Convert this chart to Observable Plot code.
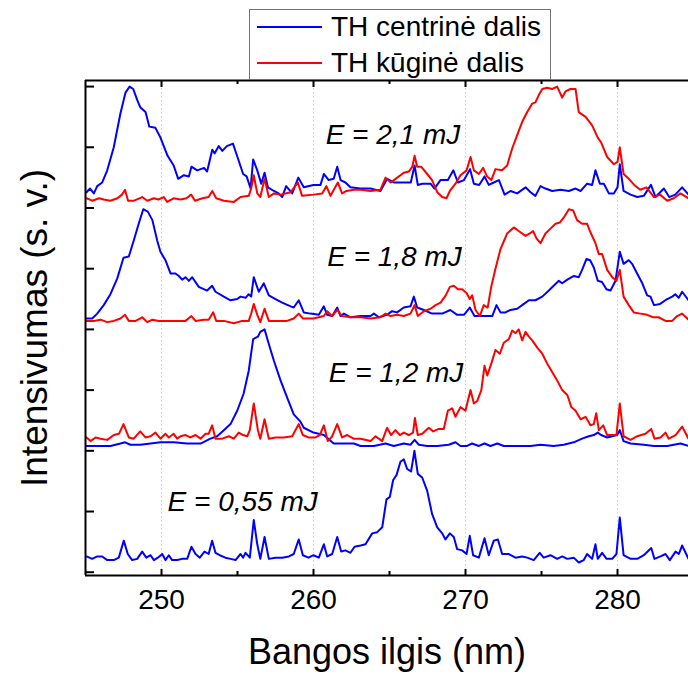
<!DOCTYPE html>
<html><head><meta charset="utf-8">
<script src="https://cdn.jsdelivr.net/npm/d3@7"></script>
<script src="https://cdn.jsdelivr.net/npm/@observablehq/plot@0.6"></script>
<style>
body{margin:0;background:#fff;}
#wrap{position:relative;width:688px;height:675px;font-family:"Liberation Sans",Arial,sans-serif;}
#legend{position:absolute;left:249px;top:9px;width:302px;height:71px;border:1px solid #707070;background:#fff;box-sizing:border-box;}
.row{position:absolute;left:0;height:32px;display:flex;align-items:center;}
.sw{width:65px;height:2px;margin-left:7px;margin-right:9px;}
.lab{font-size:28px;color:#000;white-space:nowrap;line-height:32px;}
</style></head><body>
<div id="wrap"><div id="chart"></div><div id="legend"></div></div>
<script>
// Series names and colours
const seriesNames = ["TH centrinė dalis", "TH kūginė dalis"];
const seriesColors = ["#0000ff", "#ff0000"];
const energyLabels = ["E = 0,55 mJ", "E = 1,2 mJ", "E = 1,8 mJ", "E = 2,1 mJ"];
const xMajor = [250, 260, 270, 280];
const xMinor = [255, 265, 275];
const yTicks = [0, 0.5, 1, 1.5, 2, 2.5, 3, 3.5, 4];

// Spectra: [wavelength nm, normalised intensity]
const blue055 = [[245.07,.13],[245.44,.11],[245.77,.13],[246.1,.13],[246.43,.10],[246.86,.10],[247.19,.12],[247.52,.26],[247.78,.15],[248.07,.10],[248.4,.11],[248.73,.17],[249.0,.12],[249.28,.14],[249.5,.10],[249.76,.12],[250.05,.15],[250.26,.10],[250.48,.14],[250.7,.10],[251.03,.10],[251.36,.11],[251.69,.11],[251.97,.21],[252.24,.15],[252.52,.12],[252.83,.17],[253.1,.15],[253.33,.26],[253.55,.16],[253.83,.14],[254.2,.12],[254.54,.11],[254.87,.10],[255.2,.15],[255.37,.12],[255.53,.16],[255.81,.12],[256.07,.43],[256.3,.23],[256.5,.11],[256.78,.29],[257.06,.11],[257.5,.12],[257.94,.12],[258.38,.13],[258.7,.15],[259.03,.27],[259.3,.14],[259.67,.12],[260.0,.14],[260.35,.12],[260.68,.23],[260.9,.13],[261.23,.15],[261.56,.29],[261.82,.17],[262.1,.18],[262.43,.16],[262.7,.21],[263.1,.22],[263.42,.23],[263.86,.32],[264.19,.33],[264.52,.37],[264.8,.60],[265.02,.62],[265.24,.76],[265.46,.80],[265.72,.91],[265.94,.93],[266.16,.85],[266.42,.83],[266.64,1.0],[266.86,.81],[267.15,.78],[267.48,.67],[267.8,.48],[268.14,.37],[268.47,.32],[268.68,.27],[268.97,.32],[269.23,.29],[269.45,.19],[269.78,.18],[270.07,.15],[270.28,.30],[270.5,.14],[270.88,.12],[271.25,.28],[271.53,.14],[271.86,.26],[272.13,.27],[272.41,.15],[272.85,.15],[273.29,.12],[273.73,.13],[274.06,.12],[274.49,.10],[274.88,.16],[275.14,.12],[275.59,.14],[276.03,.11],[276.36,.13],[276.7,.11],[277.12,.12],[277.45,.08],[277.78,.10],[278.0,.15],[278.33,.11],[278.55,.23],[278.7,.11],[278.99,.16],[279.28,.11],[279.65,.11],[279.93,.15],[280.15,.45],[280.4,.14],[280.86,.11],[281.3,.11],[281.73,.14],[282.22,.20],[282.43,.11],[282.83,.13],[283.16,.15],[283.44,.10],[283.82,.17],[284.03,.15],[284.25,.22],[284.67,.11]];

const blue12 = [[245.07,.04],[245.77,.04],[246.64,.04],[247.3,.06],[247.6,.07],[247.96,.05],[248.6,.05],[249.28,.06],[249.93,.07],[250.8,.07],[251.68,.06],[252.57,.06],[253.22,.10],[253.66,.12],[254.1,.17],[254.54,.22],[254.98,.33],[255.4,.47],[255.74,.66],[256.03,.92],[256.34,.94],[256.5,.98],[256.78,1.0],[257.06,.88],[257.4,.74],[257.83,.58],[258.26,.44],[258.7,.30],[259.14,.24],[259.36,.19],[260.0,.15],[260.68,.13],[261.33,.06],[262.0,.06],[262.65,.06],[263.1,.04],[263.97,.04],[264.74,.06],[265.28,.04],[265.94,.06],[266.38,.05],[266.65,.09],[266.93,.05],[267.48,.04],[268.14,.04],[268.9,.05],[269.34,.07],[269.67,.04],[270.1,.04],[270.43,.06],[270.88,.04],[271.25,.06],[271.64,.04],[272.09,.06],[272.52,.04],[273.4,.04],[274.28,.04],[274.93,.05],[275.8,.04],[276.46,.05],[277.12,.07],[277.67,.10],[278.11,.12],[278.44,.13],[278.7,.15],[278.92,.13],[279.32,.11],[279.65,.12],[279.98,.13],[280.15,.17],[280.4,.08],[280.86,.06],[281.73,.05],[282.4,.04],[283.27,.04],[284.14,.06],[284.67,.04]];

const red12 = [[245.07,.11],[245.33,.08],[245.66,.11],[245.99,.10],[246.43,.09],[246.86,.13],[247.2,.14],[247.5,.22],[247.85,.11],[248.17,.10],[248.6,.16],[248.95,.11],[249.28,.12],[249.6,.15],[249.93,.10],[250.26,.14],[250.48,.11],[250.8,.14],[251.03,.10],[251.25,.12],[251.58,.13],[251.9,.11],[252.24,.13],[252.57,.10],[252.9,.14],[253.1,.14],[253.33,.21],[253.55,.10],[253.99,.10],[254.43,.12],[254.76,.10],[255.08,.15],[255.37,.13],[255.64,.12],[255.81,.17],[256.07,.39],[256.34,.17],[256.5,.10],[256.78,.26],[257.06,.10],[257.5,.11],[258.05,.11],[258.6,.12],[259.03,.22],[259.3,.13],[259.67,.11],[260.13,.11],[260.41,.13],[260.68,.21],[260.94,.08],[261.23,.12],[261.56,.22],[261.88,.11],[262.21,.13],[262.65,.10],[263.1,.10],[263.75,.08],[264.08,.12],[264.52,.08],[264.84,.19],[265.1,.13],[265.39,.17],[265.68,.13],[265.94,.15],[266.27,.13],[266.55,.15],[266.67,.27],[266.86,.13],[267.15,.14],[267.59,.19],[267.87,.16],[268.24,.18],[268.57,.18],[268.84,.33],[269.13,.35],[269.34,.28],[269.67,.36],[270.0,.33],[270.15,.41],[270.33,.50],[270.55,.39],[270.77,.41],[271.04,.50],[271.25,.70],[271.43,.62],[271.7,.72],[271.97,.83],[272.26,.80],[272.52,.89],[272.85,.92],[273.07,.99],[273.29,.97],[273.5,1.0],[273.73,.91],[273.95,.98],[274.17,.94],[274.39,.91],[274.72,.85],[275.05,.80],[275.37,.72],[275.7,.65],[276.03,.58],[276.36,.50],[276.7,.46],[276.96,.36],[277.24,.33],[277.57,.26],[277.9,.28],[278.22,.21],[278.44,.22],[278.6,.31],[278.77,.17],[279.06,.21],[279.32,.13],[279.65,.13],[279.93,.13],[280.15,.39],[280.4,.12],[280.86,.09],[281.3,.12],[281.84,.14],[282.22,.18],[282.43,.10],[282.83,.11],[283.16,.15],[283.37,.10],[283.82,.13],[284.25,.20],[284.67,.10]];

const blue18 = [[245.07,.09],[245.44,.09],[245.77,.13],[246.2,.20],[246.64,.29],[247.09,.42],[247.5,.59],[247.85,.60],[248.17,.73],[248.5,.87],[248.8,.99],[249.1,.97],[249.4,.90],[249.72,.73],[249.93,.64],[250.26,.57],[250.6,.46],[250.92,.46],[251.14,.44],[251.36,.41],[251.58,.43],[251.8,.40],[252.02,.43],[252.45,.35],[253.0,.32],[253.33,.36],[253.55,.31],[254.1,.27],[254.54,.24],[254.98,.25],[255.2,.27],[255.53,.26],[255.74,.29],[255.9,.27],[256.07,.43],[256.4,.31],[256.73,.38],[257.06,.28],[257.5,.25],[257.94,.22],[258.5,.19],[258.7,.18],[259.03,.24],[259.36,.14],[259.8,.13],[260.35,.12],[260.68,.19],[260.9,.12],[261.23,.11],[261.56,.18],[261.78,.11],[262.0,.13],[262.43,.10],[263.1,.11],[263.75,.11],[263.97,.13],[264.3,.10],[264.84,.12],[265.17,.15],[265.5,.14],[265.94,.18],[266.38,.19],[266.6,.27],[266.82,.18],[267.26,.16],[267.8,.13],[268.47,.13],[269.0,.16],[269.45,.12],[269.9,.12],[270.28,.18],[270.59,.11],[270.99,.11],[271.43,.11],[271.76,.11],[272.04,.20],[272.3,.14],[272.63,.14],[272.96,.16],[273.4,.17],[273.84,.21],[274.17,.24],[274.6,.24],[275.05,.27],[275.48,.32],[275.8,.36],[276.14,.40],[276.36,.38],[276.7,.41],[277.13,.44],[277.45,.43],[277.67,.49],[277.96,.58],[278.2,.57],[278.44,.51],[278.7,.40],[278.98,.39],[279.27,.33],[279.54,.32],[279.87,.40],[280.15,.64],[280.4,.54],[280.74,.57],[280.96,.54],[281.29,.46],[281.63,.38],[281.95,.28],[282.17,.27],[282.4,.20],[282.8,.21],[283.27,.25],[283.6,.27],[283.8,.29],[284.03,.26],[284.25,.31],[284.67,.24]];

const red18 = [[245.07,.07],[245.55,.07],[245.99,.08],[246.43,.06],[246.86,.07],[247.3,.09],[247.6,.12],[247.85,.07],[248.3,.07],[248.73,.10],[249.06,.06],[249.4,.08],[249.82,.07],[250.37,.07],[251.03,.07],[251.58,.07],[251.97,.11],[252.24,.07],[252.78,.08],[253.1,.08],[253.4,.14],[253.6,.07],[254.1,.07],[254.76,.05],[255.3,.07],[255.74,.07],[255.9,.13],[256.07,.21],[256.3,.12],[256.5,.06],[256.78,.17],[257.06,.07],[257.6,.07],[258.26,.07],[258.7,.09],[259.03,.13],[259.3,.09],[260.0,.09],[260.68,.11],[260.9,.15],[261.23,.11],[261.56,.16],[261.88,.11],[262.43,.10],[263.1,.10],[263.75,.09],[264.4,.10],[264.74,.13],[265.07,.11],[265.5,.12],[265.94,.11],[266.38,.13],[266.65,.20],[266.86,.11],[267.26,.15],[267.7,.17],[268.03,.20],[268.36,.22],[268.7,.28],[268.97,.35],[269.23,.36],[269.5,.33],[269.78,.33],[270.07,.30],[270.28,.25],[270.44,.28],[270.66,.16],[270.94,.11],[271.2,.20],[271.46,.18],[271.69,.35],[271.97,.50],[272.3,.66],[272.74,.79],[273.18,.84],[273.5,.81],[273.95,.77],[274.23,.79],[274.45,.81],[274.67,.75],[274.93,.71],[275.26,.79],[275.59,.83],[275.92,.87],[276.2,.88],[276.46,.92],[276.8,.99],[277.08,.98],[277.34,.90],[277.67,.87],[278.0,.87],[278.22,.80],[278.55,.71],[278.77,.62],[278.99,.62],[279.32,.49],[279.65,.43],[279.93,.40],[280.15,.49],[280.4,.27],[280.74,.20],[281.07,.14],[281.5,.13],[281.95,.12],[282.34,.10],[282.7,.10],[283.16,.07],[283.6,.07],[283.92,.11],[284.25,.13],[284.67,.08]];

const blue21 = [[245.07,.13],[245.3,.16],[245.55,.12],[245.77,.18],[246.1,.21],[246.43,.31],[246.86,.50],[247.3,.78],[247.63,.95],[247.9,1.0],[248.14,.98],[248.4,.89],[248.6,.83],[248.95,.79],[249.2,.67],[249.6,.66],[249.93,.58],[250.4,.43],[250.8,.35],[251.1,.24],[251.47,.27],[251.8,.26],[251.97,.34],[252.35,.31],[252.8,.33],[253.0,.30],[253.34,.48],[253.5,.45],[253.77,.51],[254.0,.47],[254.3,.51],[254.7,.53],[254.97,.43],[255.37,.28],[255.6,.26],[255.86,.16],[256.03,.40],[256.3,.31],[256.56,.20],[256.78,.29],[257.0,.17],[257.4,.14],[257.7,.12],[257.94,.09],[258.2,.18],[258.6,.12],[259.0,.25],[259.36,.17],[260.0,.19],[260.46,.19],[260.68,.28],[261.0,.23],[261.33,.24],[261.56,.34],[261.78,.23],[262.1,.21],[262.43,.17],[263.1,.16],[263.75,.16],[264.4,.14],[264.85,.24],[265.28,.21],[265.94,.21],[266.4,.21],[266.65,.35],[266.86,.19],[267.15,.20],[267.7,.20],[267.96,.16],[268.35,.23],[268.84,.23],[269.2,.31],[269.5,.21],[269.9,.23],[270.3,.32],[270.55,.20],[270.9,.19],[271.25,.26],[271.53,.19],[271.86,.21],[272.2,.23],[272.57,.11],[272.96,.14],[273.4,.12],[273.95,.17],[274.28,.13],[274.6,.10],[274.93,.18],[275.26,.16],[275.7,.14],[276.25,.15],[276.8,.14],[277.24,.16],[277.57,.14],[278.0,.20],[278.33,.19],[278.55,.31],[278.84,.20],[279.1,.20],[279.43,.12],[279.76,.12],[280.0,.17],[280.15,.36],[280.4,.14],[280.86,.11],[281.3,.09],[281.73,.10],[282.2,.19],[282.5,.09],[283.05,.16],[283.4,.09],[283.8,.11],[284.25,.17],[284.67,.11]];

const red21 = [[245.07,.08],[245.44,.06],[245.9,.08],[246.2,.07],[246.64,.06],[247.1,.08],[247.4,.11],[247.6,.15],[247.8,.06],[248.2,.06],[248.73,.09],[249.06,.06],[249.5,.08],[249.8,.07],[250.15,.09],[250.37,.05],[250.8,.08],[251.25,.07],[251.64,.08],[251.95,.11],[252.2,.06],[252.7,.08],[253.1,.09],[253.34,.14],[253.6,.08],[254.1,.06],[254.76,.05],[255.2,.09],[255.74,.10],[255.9,.16],[256.07,.27],[256.3,.12],[256.5,.09],[256.78,.24],[257.06,.09],[257.4,.12],[257.83,.11],[258.5,.13],[258.97,.21],[259.25,.10],[260.0,.11],[260.57,.12],[260.85,.18],[261.12,.10],[261.6,.21],[261.88,.12],[262.17,.14],[262.65,.15],[263.1,.15],[263.75,.14],[264.4,.15],[264.74,.25],[265.07,.21],[265.4,.24],[265.94,.29],[266.27,.30],[266.5,.34],[266.65,.43],[266.82,.34],[267.08,.34],[267.48,.28],[267.8,.23],[268.14,.13],[268.47,.09],[268.75,.08],[268.97,.14],[269.34,.20],[269.67,.27],[270.07,.31],[270.33,.42],[270.55,.31],[270.88,.28],[271.16,.33],[271.42,.26],[271.7,.23],[271.97,.32],[272.4,.31],[272.74,.35],[273.07,.49],[273.4,.60],[273.73,.71],[274.06,.79],[274.39,.86],[274.6,.87],[274.82,.93],[275.05,.98],[275.37,.99],[275.7,.98],[276.03,1.0],[276.36,.91],[276.58,.96],[276.9,.98],[277.24,.98],[277.45,.79],[277.9,.75],[278.33,.68],[278.7,.58],[278.92,.54],[279.32,.42],[279.76,.36],[280.0,.38],[280.15,.50],[280.4,.28],[280.74,.24],[281.1,.19],[281.5,.15],[281.9,.17],[282.4,.09],[282.8,.11],[283.27,.06],[283.7,.08],[284.14,.12],[284.67,.08]];

// Panels: stacking offset, curves [blue, red]
const panels = [
  {offset: 0, blue: blue055, red: null},
  {offset: 1, blue: blue12, red: red12},
  {offset: 2, blue: blue18, red: red18},
  {offset: 3, blue: blue21, red: red21}
];
// Annotation anchors (wavelength, stacked intensity)
const annotations = [
  {label: energyLabels[0], x: 250.4, y: 0.582},
  {label: energyLabels[1], x: 261.0, y: 1.637},
  {label: energyLabels[2], x: 260.9, y: 2.595},
  {label: energyLabels[3], x: 260.8, y: 3.60}
];

const xDomain = [245, 284.67];
const yDomain = [-0.027, 4.05];
const W = 688, H = 675, mL = 85, mR = 0, mT = 80, mB = 100;
const frameW = W - mL - mR, frameH = H - mT - mB;

const lineMarks = [];
for (const p of panels) {
  lineMarks.push(Plot.line(p.blue, {x: d => d[0], y: d => d[1] + p.offset, stroke: seriesColors[0], strokeWidth: 2, strokeLinejoin: "round"}));
  if (p.red) lineMarks.push(Plot.line(p.red, {x: d => d[0], y: d => d[1] + p.offset, stroke: seriesColors[1], strokeWidth: 2, strokeLinejoin: "round"}));
}

const chart = Plot.plot({
  width: W, height: H, marginLeft: mL, marginRight: mR, marginTop: mT, marginBottom: mB,
  x: {domain: xDomain, axis: null},
  y: {domain: yDomain, axis: null},
  style: {fontFamily: "Liberation Sans, Arial, sans-serif", background: "white", color: "black"},
  marks: [
    Plot.ruleX(xMajor, {stroke: "#cfcfcf", strokeWidth: 1, strokeDasharray: "1.5,2.5"}),
    ...lineMarks,
    Plot.ruleX([xDomain[0]], {stroke: "black", strokeWidth: 2}),
    Plot.ruleY([yDomain[0]], {stroke: "black", strokeWidth: 2}),
    Plot.ruleY([yDomain[1]], {stroke: "black", strokeWidth: 2}),
    Plot.tickY(yTicks, {y: d => d, insetRight: frameW - 9, stroke: "black", strokeWidth: 2}),
    Plot.tickX(xMajor, {x: d => d, insetTop: frameH - 6, stroke: "black", strokeWidth: 2}),
    Plot.tickX(xMinor, {x: d => d, insetTop: frameH - 4, stroke: "black", strokeWidth: 2}),
    Plot.tickX(xMajor, {x: d => d, insetBottom: frameH - 7, stroke: "black", strokeWidth: 2}),
    Plot.tickX(xMinor, {x: d => d, insetBottom: frameH - 4, stroke: "black", strokeWidth: 2}),
    Plot.axisX(xMajor, {tickSize: 0, tickPadding: 14, fontSize: 28, label: null, tickFormat: d => String(d)}),
    Plot.text(annotations, {x: "x", y: "y", text: "label", textAnchor: "start", lineAnchor: "middle", fontSize: 28, fontStyle: "italic", fill: "black"}),
    Plot.text(["Bangos ilgis (nm)"], {frameAnchor: "bottom", textAnchor: "middle", lineAnchor: "middle", dy: 77, fontSize: 36, fill: "black"}),
    Plot.text(["Intensivumas (s. v.)"], {frameAnchor: "left", textAnchor: "middle", lineAnchor: "middle", rotate: -90, dx: -50, fontSize: 37, fill: "black"})
  ]
});
document.getElementById("chart").appendChild(chart);

// Legend
const leg = document.getElementById("legend");
seriesNames.forEach((name, i) => {
  const row = document.createElement("div");
  row.className = "row";
  row.style.top = (i === 0 ? 1 : 37) + "px";
  const sw = document.createElement("div");
  sw.className = "sw";
  sw.style.background = seriesColors[i];
  const lab = document.createElement("span");
  lab.className = "lab";
  lab.textContent = name;
  row.appendChild(sw); row.appendChild(lab);
  leg.appendChild(row);
});
</script>
</body></html>
